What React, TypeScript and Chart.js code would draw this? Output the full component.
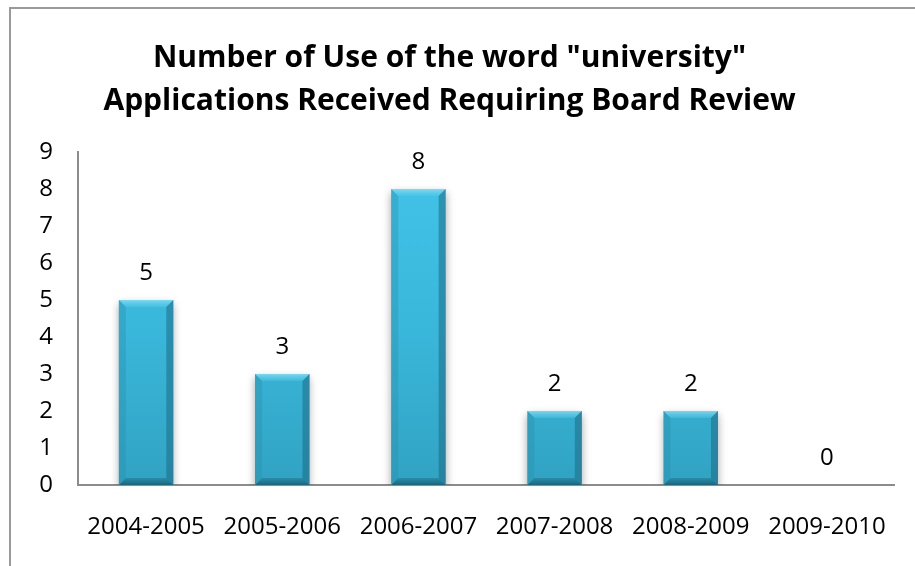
import React, { useEffect, useRef } from "react";
import { Chart, registerables } from "chart.js";

Chart.register(...registerables);

const categories = ["2004-2005", "2005-2006", "2006-2007", "2007-2008", "2008-2009", "2009-2010"];
const values = [5, 3, 8, 2, 2, 0];
const titleLines = ['Number of Use of the word "university"', "Applications Received Requiring Board Review"];
const yMin = 0;
const yMax = 9;
const yStep = 1;

const FONT = "'Open Sans', 'Noto Sans', sans-serif";

function bevelPlugin() {
  return {
    id: "bevel",
    beforeDatasetsDraw(chart: any) {
      const ctx = chart.ctx;
      ctx.save();
      ctx.shadowColor = "rgba(0,0,0,0.35)";
      ctx.shadowBlur = 8;
      ctx.shadowOffsetX = 0;
      ctx.shadowOffsetY = 4;
    },
    afterDatasetsDraw(chart: any) {
      const ctx = chart.ctx;
      ctx.restore();
      const meta = chart.getDatasetMeta(0);
      meta.data.forEach((bar: any) => {
        const { x, y, base, width } = bar.getProps(["x", "y", "base", "width"], true);
        const h = base - y;
        if (h < 1) return;
        const l = x - width / 2;
        const r = x + width / 2;
        const t = y;
        const b = base;
        const bv = Math.min(7, h / 2);
        const poly = (pts: number[][], fill: any) => {
          ctx.beginPath();
          ctx.moveTo(pts[0][0], pts[0][1]);
          for (let i = 1; i < pts.length; i++) ctx.lineTo(pts[i][0], pts[i][1]);
          ctx.closePath();
          ctx.fillStyle = fill;
          ctx.fill();
        };
        const tg = ctx.createLinearGradient(0, t, 0, t + bv);
        tg.addColorStop(0, "rgba(150,228,248,0.75)");
        tg.addColorStop(1, "rgba(90,205,235,0.35)");
        poly([[l, t], [r, t], [r - bv, t + bv], [l + bv, t + bv]], tg);
        const bg = ctx.createLinearGradient(0, b - bv, 0, b);
        bg.addColorStop(0, "rgba(30,110,135,0.45)");
        bg.addColorStop(1, "rgba(20,85,105,0.8)");
        poly([[l, b], [r, b], [r - bv, b - bv], [l + bv, b - bv]], bg);
        poly([[l, t], [l + bv, t + bv], [l + bv, b - bv], [l, b]], "rgba(40,140,170,0.35)");
        poly([[r, t], [r - bv, t + bv], [r - bv, b - bv], [r, b]], "rgba(25,100,128,0.5)");
      });
      ctx.save();
      ctx.font = `24px ${FONT}`;
      ctx.fillStyle = "#000";
      ctx.textAlign = "center";
      ctx.textBaseline = "alphabetic";
      meta.data.forEach((bar: any, i: number) => {
        const { x, y } = bar.getProps(["x", "y"], true);
        ctx.fillText(String(values[i]), x, y - 20);
      });
      ctx.restore();
    },
  };
}

export default function App() {
  const ref = useRef<HTMLCanvasElement | null>(null);

  useEffect(() => {
    document.body.style.margin = "0";
    const canvas = ref.current!;
    const chart = new Chart(canvas, {
      type: "bar",
      data: {
        labels: categories,
        datasets: [
          {
            data: values,
            backgroundColor: (c: any) => {
              const area = c.chart.chartArea;
              if (!area) return "#3cbde0";
              const g = c.chart.ctx.createLinearGradient(0, area.top, 0, area.bottom);
              g.addColorStop(0, "#42c4e8");
              g.addColorStop(0.5, "#3ab8dc");
              g.addColorStop(1, "#31a3c3");
              return g;
            },
            borderWidth: 0,
            barPercentage: 0.4,
            categoryPercentage: 1,
          },
        ],
      },
      options: {
        responsive: false,
        animation: false,
        layout: { padding: { left: 0, right: 16, top: 0, bottom: 0 } },
        plugins: {
          legend: { display: false },
          tooltip: { enabled: false },
          title: {
            display: true,
            text: titleLines,
            color: "#000",
            font: { family: FONT, size: 30, weight: "bold", lineHeight: 1.433 },
            padding: { top: 37, bottom: 29 },
          },
        },
        scales: {
          x: {
            grid: { display: false, drawTicks: false },
            border: { display: true, color: "#8c8c8c", width: 2 },
            ticks: { color: "#000", font: { family: FONT, size: 24 }, padding: 28, maxRotation: 0 },
            afterFit: (s: any) => {
              s.height = 81;
            },
          },
          y: {
            min: yMin,
            max: yMax,
            grid: { display: false, drawTicks: false },
            border: { display: true, color: "#8c8c8c", width: 2 },
            ticks: { stepSize: yStep, color: "#000", font: { family: FONT, size: 24 }, padding: 25 },
            afterFit: (s: any) => {
              s.width = 78;
            },
          },
        },
      },
      plugins: [bevelPlugin()],
    } as any);
    return () => chart.destroy();
  }, []);

  return (
    <div style={{ position: "fixed", left: 0, top: 0, width: 915, height: 566, overflow: "hidden", background: "#fff" }}>
      <canvas ref={ref} width={915} height={566} style={{ display: "block" }} />
      <div
        style={{
          position: "absolute",
          left: 9,
          top: 7,
          width: 2000,
          height: 2000,
          borderLeft: "2px solid #9a9a9a",
          borderTop: "2px solid #9a9a9a",
          pointerEvents: "none",
        }}
      />
    </div>
  );
}
